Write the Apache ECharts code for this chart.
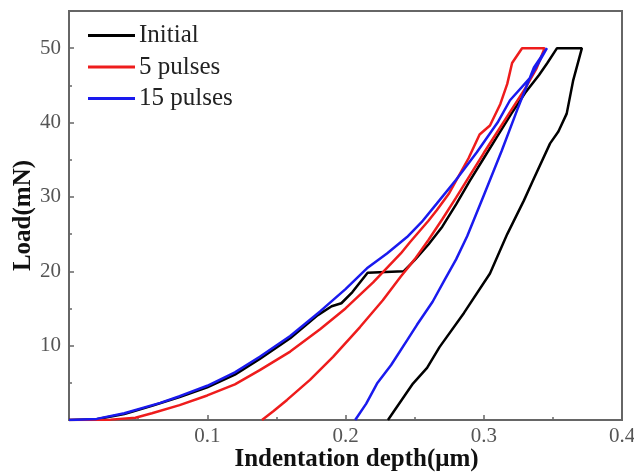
<!DOCTYPE html>
<html>
<head>
<meta charset="utf-8">
<script src="https://cdn.jsdelivr.net/npm/echarts@6/dist/echarts.min.js"></script>
<style>
  html, body { margin: 0; padding: 0; background: #fff; }
  #chart { width: 634px; height: 472px; }
</style>
</head>
<body>
<div id="chart"></div>
<script>
// load-depth curves (depth in um, load in mN)
const seriesNames = ['Initial', '5 pulses', '15 pulses']
const seriesColors = ['#000000', '#ee1c1c', '#1a1aee']

const initialDepth = [0, 0.02, 0.04, 0.06, 0.08, 0.1, 0.12, 0.138, 0.16, 0.18, 0.19, 0.197, 0.205, 0.216, 0.242, 0.25, 0.26, 0.27, 0.28, 0.29, 0.30, 0.31, 0.32, 0.33, 0.34, 0.346, 0.353, 0.371, 0.3646, 0.36, 0.354, 0.348, 0.3356, 0.329, 0.317, 0.3045, 0.2857, 0.268, 0.259, 0.2488, 0.2307]
const initialLoad = [0, 0.1, 0.8, 1.9, 3.1, 4.4, 6.1, 8.2, 11, 14.1, 15.3, 15.7, 17.2, 19.8, 20, 21.5, 23.6, 26, 29, 32.2, 35.2, 38.2, 41.2, 44, 46.4, 48, 50, 50, 45.6, 41.2, 38.8, 37.2, 32.2, 29.5, 25, 19.7, 14.4, 9.8, 7, 4.9, 0]

const pulse5Depth = [0, 0.03, 0.048, 0.06, 0.08, 0.1, 0.12, 0.138, 0.16, 0.1816, 0.2, 0.22, 0.24, 0.2466, 0.26, 0.266, 0.275, 0.289, 0.297, 0.3045, 0.312, 0.317, 0.3205, 0.3277, 0.344, 0.338, 0.33, 0.32, 0.31, 0.30, 0.29, 0.28, 0.27, 0.26, 0.25, 0.24, 0.227, 0.2105, 0.191, 0.1743, 0.1577, 0.148, 0.1396]
const pulse5Load = [0, 0.05, 0.3, 0.9, 2, 3.3, 4.8, 6.7, 9.2, 12.2, 15, 18.5, 22.4, 23.9, 26.8, 28.2, 30.5, 35.2, 38.4, 39.6, 42.5, 45.2, 48, 50, 50, 47.2, 44.6, 41.7, 38.8, 35.9, 32.9, 29.9, 27, 24.2, 21.6, 19.3, 16.1, 12.5, 8.5, 5.4, 2.7, 1.2, 0]

const pulse15Depth = [0, 0.02, 0.04, 0.066, 0.08, 0.1, 0.12, 0.138, 0.16, 0.1816, 0.2, 0.2155, 0.23, 0.2445, 0.255, 0.266, 0.28, 0.295, 0.31, 0.319, 0.3335, 0.3457, 0.3363, 0.324, 0.313, 0.30, 0.288, 0.28, 0.271, 0.263, 0.2517, 0.2445, 0.233, 0.2228, 0.215, 0.207]
const pulse15Load = [0, 0.15, 0.9, 2.3, 3.2, 4.6, 6.4, 8.5, 11.3, 14.6, 17.6, 20.4, 22.4, 24.6, 26.6, 29.1, 32.3, 36, 40, 43, 46, 50, 47.4, 41.6, 36.2, 30.2, 24.7, 21.6, 18.6, 15.9, 12.8, 10.7, 7.4, 4.9, 2.2, 0]

const xTicks = [0.1, 0.2, 0.3, 0.4]
const yTicks = [10, 20, 30, 40, 50]

const serif = '"Liberation Serif", "Times New Roman", serif'

function pairs(xs, ys) {
  return xs.map((x, i) => [x, ys[i]])
}

const curves = [
  pairs(initialDepth, initialLoad),
  pairs(pulse5Depth, pulse5Load),
  pairs(pulse15Depth, pulse15Load)
]

const chart = echarts.init(document.getElementById('chart'), null, { renderer: 'canvas' })

const option = {
  animation: false,
  backgroundColor: '#fff',
  grid: {
    left: 69,
    right: 12,
    top: 11,
    bottom: 52,
    outerBoundsMode: 'none',
    containLabel: false,
    show: true,
    borderColor: '#666',
    borderWidth: 2
  },
  legend: {
    orient: 'vertical',
    left: 83,
    top: 18,
    icon: 'rect',
    itemWidth: 47,
    itemHeight: 3,
    itemGap: 6.5,
    data: seriesNames,
    textStyle: { fontFamily: serif, fontSize: 25, color: '#222', padding: [0, 0, 0, -1] }
  },
  xAxis: {
    type: 'value',
    min: 0,
    max: 0.4,
    interval: 0.1,
    name: 'Indentation depth(μm)',
    nameLocation: 'middle',
    nameGap: 27,
    nameMoveOverlap: false,
    nameTextStyle: { fontFamily: serif, fontSize: 25, fontWeight: 'bold', color: '#111', padding: [0, 0, 0, 22] },
    axisLine: { lineStyle: { color: '#666', width: 2 } },
    axisTick: { inside: true, length: 5, lineStyle: { color: '#666', width: 1.5 } },
    minorTick: { show: true, splitNumber: 2, length: 3, lineStyle: { color: '#666', width: 1.5 } },
    splitLine: { show: false },
    axisLabel: {
      fontFamily: serif,
      fontSize: 21,
      color: '#555',
      margin: 6,
      formatter: v => (xTicks.some(t => Math.abs(t - v) < 1e-9) ? v.toFixed(1) : '')
    }
  },
  yAxis: {
    type: 'value',
    min: 0,
    max: 55,
    interval: 10,
    name: 'Load(mN)',
    nameLocation: 'middle',
    nameGap: 33,
    nameMoveOverlap: false,
    nameTextStyle: { fontFamily: serif, fontSize: 25, fontWeight: 'bold', color: '#111' },
    axisLine: { lineStyle: { color: '#666', width: 2 } },
    axisTick: { inside: true, length: 5, lineStyle: { color: '#666', width: 1.5 } },
    minorTick: { show: true, splitNumber: 2, length: 3, lineStyle: { color: '#666', width: 1.5 } },
    splitLine: { show: false },
    axisLabel: {
      fontFamily: serif,
      fontSize: 21,
      color: '#555',
      margin: 8,
      formatter: v => (yTicks.indexOf(v) >= 0 ? String(v) : '')
    }
  },
  series: curves.map((d, i) => ({
    name: seriesNames[i],
    type: 'line',
    data: d,
    symbol: 'none',
    smooth: false,
    color: seriesColors[i],
    lineStyle: { width: 2.5, color: seriesColors[i] }
  }))
}

chart.setOption(option)
</script>
</body>
</html>
